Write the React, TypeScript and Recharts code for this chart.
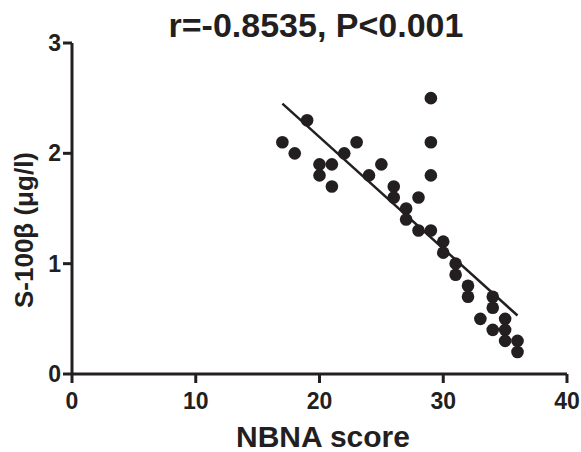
import { ComposedChart, Scatter, Line, XAxis, YAxis } from 'recharts';

const nbnaScore = [17, 18, 19, 20, 20, 21, 21, 22, 23, 24, 25, 26, 26, 27, 27, 28, 28, 29, 29, 29, 29, 30, 30, 31, 31, 32, 32, 33, 34, 34, 34, 35, 35, 35, 36, 36];
const s100b = [2.1, 2.0, 2.3, 1.9, 1.8, 1.9, 1.7, 2.0, 2.1, 1.8, 1.9, 1.7, 1.6, 1.5, 1.4, 1.6, 1.3, 2.5, 2.1, 1.8, 1.3, 1.2, 1.1, 1.0, 0.9, 0.8, 0.7, 0.5, 0.7, 0.6, 0.4, 0.5, 0.4, 0.3, 0.3, 0.2];

const fitX = [17, 36];
const fitY = [2.45, 0.53];

const xTicks = [0, 10, 20, 30, 40];
const yTicks = [0, 1, 2, 3];

const ink = '#231f20';
const font = '"Liberation Sans", Arial, sans-serif';

const points = nbnaScore.map((x, i) => ({ x, y: s100b[i] }));
const fitLine = fitX.map((x, i) => ({ x, y: fitY[i] }));

const Dot = (props: any) => <circle cx={props.cx} cy={props.cy} r={6.3} fill={ink} />;

export default function App() {
  const tickStyle = { fontSize: 23, fontWeight: 700, fontFamily: font, fill: ink };
  return (
    <div style={{ position: 'absolute', left: 0, top: 0, width: 581, height: 452, background: '#fff' }}>
      <ComposedChart width={581} height={452} margin={{ top: 43, right: 14, bottom: 28, left: 12 }}>
        <XAxis
          type="number"
          dataKey="x"
          domain={[0, 40]}
          ticks={xTicks}
          allowDataOverflow
          height={50}
          axisLine={{ stroke: ink, strokeWidth: 3 }}
          tickLine={{ stroke: ink, strokeWidth: 3 }}
          tickSize={9}
          tickMargin={10}
          tick={tickStyle}
        />
        <YAxis
          type="number"
          dataKey="y"
          domain={[0, 3]}
          ticks={yTicks}
          allowDataOverflow
          width={60}
          axisLine={{ stroke: ink, strokeWidth: 3 }}
          tickLine={{ stroke: ink, strokeWidth: 3 }}
          tickSize={9}
          tickMargin={2}
          tick={tickStyle}
        />
        <Line data={fitLine} dataKey="y" type="linear" stroke={ink} strokeWidth={2.5} dot={false} activeDot={false} isAnimationActive={false} />
        <Scatter data={points} dataKey="y" fill={ink} shape={Dot} isAnimationActive={false} />
      </ComposedChart>
      <svg width={581} height={452} style={{ position: 'absolute', left: 0, top: 0, pointerEvents: 'none' }}>
        <text x={316} y={37} textAnchor="middle" fontFamily={font} fontWeight={700} fontSize={34} fill={ink}>
          r=-0.8535, P&lt;0.001
        </text>
        <text x={323} y={447} textAnchor="middle" fontFamily={font} fontWeight={700} fontSize={30} fill={ink}>
          NBNA score
        </text>
        <text
          x={0}
          y={0}
          transform="translate(33, 230) rotate(-90)"
          textAnchor="middle"
          fontFamily={font}
          fontWeight={700}
          fontSize={26}
          fill={ink}
        >
          S-100β (μg/l)
        </text>
      </svg>
    </div>
  );
}
